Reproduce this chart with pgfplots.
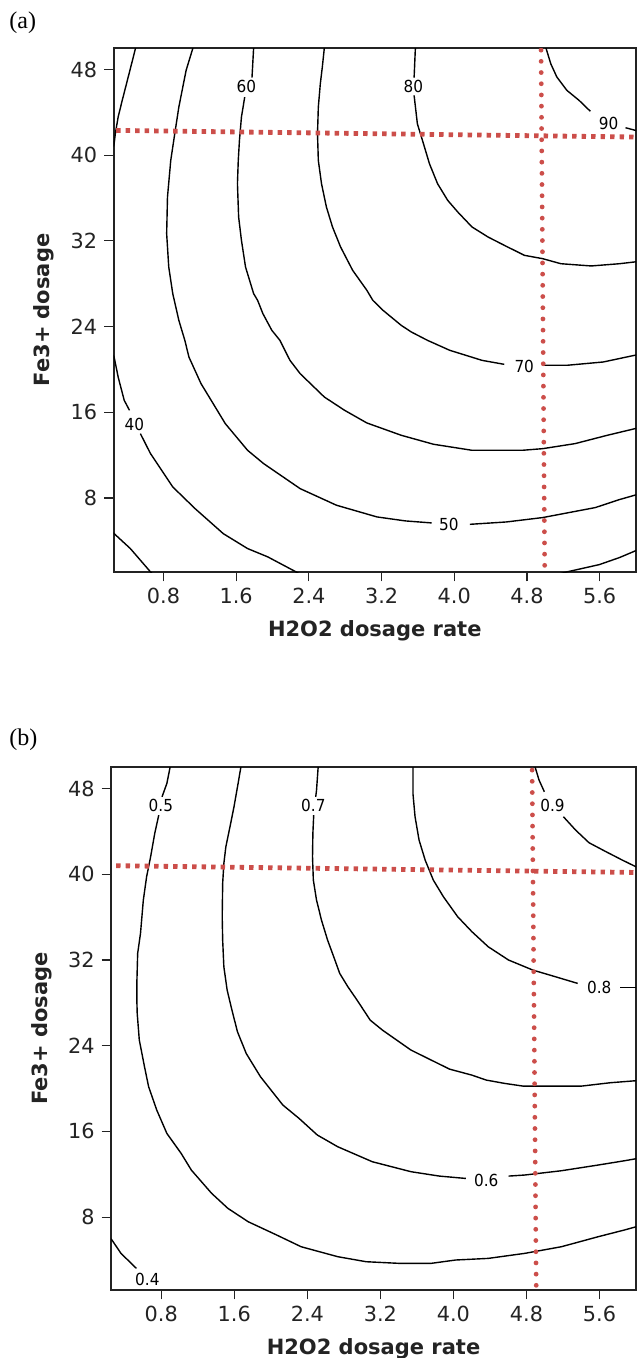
\documentclass[border=0pt]{standalone}
\usepackage{fontspec}
\usepackage{pgfplots}
\pgfplotsset{compat=1.18}
\setmainfont{Liberation Serif}
\newfontfamily\dejavu{DejaVu Sans}
\newfontfamily\clab{DejaVu Sans}[FakeStretch=0.92]
\definecolor{refred}{RGB}{204,78,74}
\definecolor{axgray}{RGB}{35,35,35}
\pgfplotsset{
  panel/.style={
    scale only axis,
    xmin=0.25, xmax=6.0, ymax=50,
    xtick={0.8,1.6,2.4,3.2,4.0,4.8,5.6},
    xticklabels={0.8,1.6,2.4,3.2,4.0,4.8,5.6},
    ytick={8,16,24,32,40,48},
    yticklabels={8,16,24,32,40,48},
    xtick pos=left, ytick pos=left,
    tick align=outside,
    major tick length=4.7pt,
    tick style={axgray, line width=0.6pt},
    axis line style={axgray, line width=1pt},
    ticklabel style={font=\dejavu\fontsize{10.4}{12}\selectfont, text=axgray},
    label style={font=\dejavu\bfseries\fontsize{10.5}{12}\selectfont, text=axgray},
    xlabel={H2O2 dosage rate},
    ylabel={Fe3+ dosage},
    xlabel style={at={(axis description cs:0.5,0)}, anchor=base, yshift=-32.3pt},
    clip=true,
  },
  cont/.style={black, line width=0.7pt, mark=none},
  hred/.style={refred, line width=2.4pt, dash pattern=on 2.2pt off 2.55pt},
  vred/.style={refred, line width=2.4pt, line cap=round, dash pattern=on 0pt off 5.6pt},
}
\begin{document}
\begin{tikzpicture}
\useasboundingbox (0,0) rectangle (318.5pt,-679pt);
\node[anchor=base west, font=\fontsize{12}{14}\selectfont, inner sep=0] at (4.5pt,-14.5pt) {(a)};
\node[anchor=base west, font=\fontsize{12}{14}\selectfont, inner sep=0] at (4.5pt,-372.5pt) {(b)};

% ---------------- panel (a) ----------------
\begin{axis}[panel, at={(56.75pt,-286pt)}, anchor=south west,
  width=261.25pt, height=262pt, ymin=1.1,
  ylabel style={at={(axis description cs:-0.133,0.5)}, anchor=center}]
% 40 (top-left)
\addplot[cont] coordinates {(0.493,50.5) (0.493,50.0) (0.426,47.76) (0.346,45.11) (0.301,43.56) (0.270,42.0) (0.257,41.07) (0.25,40.8)};
% 50
\addplot[cont] coordinates {(1.124,50.5) (1.124,50.0) (1.049,47.91) (0.969,44.49) (0.924,42.0) (0.880,39.51) (0.844,36.09) (0.835,32.67) (0.858,29.56) (0.902,27.08) (0.969,24.59) (0.991,23.96) (1.035,22.72) (1.080,21.16) (1.213,18.68) (1.347,16.81) (1.480,14.95) (1.725,12.46) (1.903,11.21) (2.304,8.88) (2.704,7.33) (3.149,6.24) (3.460,5.87) (3.750,5.68)};
\addplot[cont] coordinates {(4.172,5.55) (4.573,5.77) (4.973,6.18) (5.240,6.61) (5.551,7.11) (5.818,7.86) (6.0,8.3) (6.1,8.5)};
\node[font=\clab\fontsize{8.3}{10}\selectfont, inner sep=0] at (axis cs:3.94,5.5) {50};
% 60
\addplot[cont] coordinates {(1.792,50.5) (1.792,50) (1.774,47.23)};
\node[font=\clab\fontsize{8.3}{10}\selectfont, inner sep=0] at (axis cs:1.712,46.42) {60};
\addplot[cont] coordinates {(1.694,45.42) (1.658,43.56) (1.636,41.38) (1.623,39.51) (1.614,37.34) (1.627,34.23) (1.658,32.05) (1.703,29.56) (1.792,27.08) (1.836,26.45) (1.894,25.21) (1.992,23.66) (2.081,22.72) (2.192,20.85) (2.304,19.61) (2.570,17.43) (2.793,16.19) (3.038,15.01) (3.416,13.86) (3.772,13.02) (4.194,12.46) (4.751,12.46) (4.973,12.61) (5.329,13.08) (5.685,13.86) (6.0,14.5) (6.1,14.7)};
% 70
\addplot[cont] coordinates {(2.570,50.5) (2.570,50) (2.548,48.22) (2.526,46.67) (2.504,44.49) (2.495,42.0) (2.504,39.51) (2.539,37.34) (2.593,35.16) (2.660,33.30) (2.749,31.43) (2.882,29.25) (3.038,27.39) (3.104,26.45) (3.216,25.52) (3.416,24.12) (3.527,23.50) (3.705,22.72) (3.950,21.79) (4.306,20.85) (4.550,20.48)};
\node[font=\clab\fontsize{8.3}{10}\selectfont, inner sep=0] at (axis cs:4.77,20.25) {70};
\addplot[cont] coordinates {(4.973,20.39) (5.240,20.39) (5.640,20.70) (6.0,21.35) (6.1,21.6)};
% 80
\addplot[cont] coordinates {(3.572,50.5) (3.572,50) (3.558,47.23)};
\node[font=\clab\fontsize{8.3}{10}\selectfont, inner sep=0] at (axis cs:3.549,46.42) {80};
\addplot[cont] coordinates {(3.558,45.58) (3.594,42.93) (3.661,41.07) (3.727,39.20) (3.816,37.34) (3.928,35.78) (4.039,34.69) (4.195,33.30) (4.372,32.36) (4.573,31.49) (4.773,30.65) (4.973,30.34) (5.173,29.87) (5.507,29.66) (5.819,29.87) (6.0,30.05) (6.1,30.15)};
% 90
\addplot[cont] coordinates {(5.0,50.5) (5.009,50) (5.062,48.53) (5.129,47.29) (5.240,46.04) (5.374,45.11) (5.498,44.09)};
\node[font=\clab\fontsize{8.3}{10}\selectfont, inner sep=0] at (axis cs:5.698,43.0) {90};
\addplot[cont] coordinates {(5.885,42.56) (6.0,42.3) (6.1,42.1)};
% 40 (lower)
\addplot[cont] coordinates {(0.24,21.4) (0.257,21.16) (0.301,19.30) (0.368,17.12) (0.426,16.19)};
\node[font=\clab\fontsize{8.3}{10}\selectfont, inner sep=0] at (axis cs:0.479,14.88) {40};
\addplot[cont] coordinates {(0.546,14.01) (0.657,12.15) (0.902,9.04) (1.147,7.02) (1.458,4.68) (1.725,3.29) (1.948,2.51) (2.259,1.11) (2.3,0.9)};
% 30 (corner)
\addplot[cont] coordinates {(0.24,4.8) (0.257,4.68) (0.435,3.29) (0.657,1.11) (0.68,0.9)};
% 40 (bottom right)
\addplot[cont] coordinates {(5.15,0.9) (5.24,1.11) (5.596,1.79) (5.819,2.45) (6.0,3.1) (6.1,3.4)};
% reference lines
\addplot[hred] coordinates {(0.279,42.31) (6.0,41.69)};
\addplot[vred] coordinates {(4.955,49.8) (4.995,1.6)};
\end{axis}

% ---------------- panel (b) ----------------
\begin{axis}[panel, at={(55.5pt,-645pt)}, anchor=south west,
  width=262.5pt, height=261.5pt, ymin=1.2,
  ylabel style={at={(axis description cs:-0.131,0.5)}, anchor=center}]
% 0.5
\addplot[cont] coordinates {(0.898,50.5) (0.898,50.02) (0.862,48.47) (0.809,47.22)};
\node[font=\clab\fontsize{8.3}{10}\selectfont, inner sep=0] at (axis cs:0.796,46.45) {0.5};
\addplot[cont] coordinates {(0.773,45.51) (0.729,43.80) (0.684,41.63) (0.640,39.76) (0.604,37.58) (0.573,34.47) (0.542,32.61) (0.533,29.81) (0.533,28.25) (0.537,27.01) (0.56,24.52) (0.617,22.03) (0.662,20.17) (0.751,17.99) (0.862,15.81) (1.018,13.95) (1.130,12.39) (1.352,10.22) (1.530,8.82) (1.753,7.57) (2.065,6.33) (2.332,5.24) (2.733,4.31) (3.045,3.84) (3.401,3.69) (3.758,3.69) (4.025,4.00) (4.381,4.15) (4.782,4.62) (5.183,5.24) (5.584,6.17) (5.873,6.80) (6.0,7.1) (6.1,7.3)};
% 0.4
\addplot[cont] coordinates {(0.24,6.05) (0.261,5.86) (0.359,4.62) (0.528,3.22)};
\node[font=\clab\fontsize{8.3}{10}\selectfont, inner sep=0] at (axis cs:0.648,2.2) {0.4};
% 0.6
\addplot[cont] coordinates {(1.673,50.5) (1.673,50.02) (1.642,48.47) (1.597,46.29) (1.553,44.42) (1.508,42.56) (1.486,41.0) (1.473,39.14) (1.468,36.03) (1.473,33.85) (1.486,31.36) (1.522,29.19) (1.575,27.3) (1.635,25.3) (1.731,23.27) (1.887,21.10) (2.132,18.46) (2.310,17.21) (2.510,15.66) (2.733,14.57) (3.112,13.17) (3.535,12.24) (3.847,11.83) (4.136,11.61)};
\node[font=\clab\fontsize{8.3}{10}\selectfont, inner sep=0] at (axis cs:4.359,11.46) {0.6};
\addplot[cont] coordinates {(4.604,11.83) (4.782,11.93) (5.183,12.33) (5.584,12.86) (5.873,13.26) (6.0,13.45) (6.1,13.6)};
% 0.7
\addplot[cont] coordinates {(2.519,50.5) (2.519,50.02) (2.501,47.84) (2.492,47.22)};
\node[font=\clab\fontsize{8.3}{10}\selectfont, inner sep=0] at (axis cs:2.466,46.45) {0.7};
\addplot[cont] coordinates {(2.470,45.51) (2.461,43.80) (2.457,41.63) (2.466,39.45) (2.501,37.58) (2.555,35.72) (2.622,33.85) (2.689,32.30) (2.755,30.74) (2.844,29.50) (2.945,28.25) (3.089,26.38) (3.223,25.45) (3.535,23.59) (3.758,22.65) (3.958,21.81) (4.203,21.25) (4.359,20.79) (4.560,20.48) (4.760,20.23) (5.049,20.23) (5.406,20.23) (5.717,20.54) (6.0,20.73) (6.1,20.8)};
% 0.8
\addplot[cont] coordinates {(3.557,50.5) (3.557,50.02) (3.557,47.53) (3.580,45.36) (3.624,43.18) (3.691,41.31) (3.780,39.45) (3.891,37.89) (4.047,36.03) (4.203,34.63) (4.381,33.23) (4.604,31.99) (4.871,31.05) (5.094,30.49) (5.361,29.81)};
\node[font=\clab\fontsize{8.3}{10}\selectfont, inner sep=0] at (axis cs:5.597,29.44) {0.8};
\addplot[cont] coordinates {(5.829,29.44) (6.0,29.44) (6.1,29.44)};
% 0.9
\addplot[cont] coordinates {(4.89,50.5) (4.894,50.02) (4.938,48.78) (4.996,47.69)};
\node[font=\clab\fontsize{8.3}{10}\selectfont, inner sep=0] at (axis cs:5.085,46.45) {0.9};
\addplot[cont] coordinates {(5.205,45.36) (5.339,44.11) (5.486,42.93) (5.673,42.09) (5.851,41.31) (6.0,40.69) (6.1,40.3)};
% reference lines
\addplot[hred] coordinates {(0.306,40.79) (6.0,40.16)};
\addplot[vred] coordinates {(4.862,49.71) (4.907,1.55)};
\end{axis}
\end{tikzpicture}
\end{document}
